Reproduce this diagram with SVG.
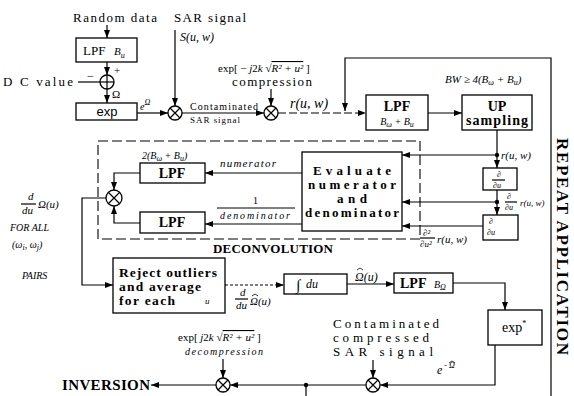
<svg xmlns="http://www.w3.org/2000/svg" width="574" height="396" viewBox="0 0 574 396">
<defs>
<marker id="ah" markerWidth="8" markerHeight="6" refX="8" refY="3" orient="auto" markerUnits="userSpaceOnUse"><path d="M0,0 L8,3 L0,6 z" fill="#000"/></marker>
</defs>
<style>
.box{fill:#fff;stroke:#000;stroke-width:1.3}
.ln{fill:none;stroke:#000;stroke-width:1.2}
.hat{fill:none;stroke:#000;stroke-width:0.8}
.ar{fill:none;stroke:#000;stroke-width:1.2;marker-end:url(#ah)}
.t{font-family:"Liberation Serif",serif;font-size:13px;fill:#000}
.b{font-weight:bold}
.i{font-style:italic}
.s{font-family:"Liberation Sans",sans-serif}
.sm{font-size:10px}
.xs{font-size:8px}
.f14{font-size:14px}
.f15{font-size:15px}
.dash{stroke-dasharray:8,3}
.dot{stroke-dasharray:3,2}
.circ{fill:#fff;stroke:#000;stroke-width:1.3}
</style>
<rect width="574" height="396" fill="#fff"/>

<g id="connectors">
  <line class="ar" x1="107" y1="25" x2="107" y2="38"/>
  <line class="ar" x1="107" y1="62" x2="107" y2="75"/>
  <line class="ln" x1="78" y1="82" x2="100" y2="82"/>
  <line class="ar" x1="107" y1="89" x2="107" y2="103"/>
  <line class="ar" x1="137" y1="113" x2="168" y2="113"/>
  <line class="ar" x1="175" y1="30" x2="175" y2="106"/>
  <line class="ar" x1="182" y1="113" x2="264" y2="113"/>
  <line class="ar" x1="271" y1="89" x2="271" y2="106"/>
  <line class="ar dash" x1="278" y1="113" x2="366" y2="113"/>
  <path class="ar" d="M551,396 V58 H345 V111"/>
  <line class="ar" x1="428" y1="113" x2="462" y2="113"/>
  <line class="ar" x1="497" y1="130" x2="497" y2="168"/>
  <circle cx="497" cy="155" r="2.2" fill="#000"/>
  <line class="ar" x1="497" y1="190" x2="497" y2="215"/>
  <circle cx="497" cy="202" r="2.2" fill="#000"/>
  <line class="ar" x1="497" y1="155" x2="402" y2="155"/>
  <line class="ar" x1="497" y1="202" x2="402" y2="202"/>
  <line class="ar" x1="483" y1="226" x2="402" y2="226"/>
  <line class="ar" x1="302" y1="173" x2="205" y2="173"/>
  <line class="ar" x1="302" y1="224" x2="205" y2="224"/>
  <path class="ar" d="M140,173 H114 V190"/>
  <path class="ar" d="M140,223 H114 V206"/>
  <path class="ar" d="M106,198 H82 V285 H113"/>
  <line class="ar dot" x1="225" y1="285" x2="284" y2="285"/>
  <line class="ar" x1="347" y1="284" x2="394" y2="284"/>
  <path class="ar" d="M453,283 H505 V310"/>
  <path class="ar" d="M495,345 V385 H380"/>
  <line class="ar" x1="373" y1="360" x2="373" y2="378"/>
  <line class="ar" x1="366" y1="385" x2="230" y2="385"/>
  <circle cx="306" cy="385" r="2.2" fill="#000"/>
  <line class="ln" x1="306" y1="385" x2="306" y2="396"/>
  <line class="ar" x1="223" y1="359" x2="223" y2="378"/>
  <line class="ar" x1="216" y1="385" x2="151" y2="385"/>

  <text class="t i sm" x="140" y="110">e<tspan class="xs" dy="-5">Ω</tspan></text>
  <text class="t sm" x="190" y="110" textLength="68" lengthAdjust="spacing">Contaminated</text>
  <text class="t" style="font-size:9px" x="190" y="123" textLength="50" lengthAdjust="spacing">SAR signal</text>
  <text class="t i f14" x="290" y="108">r(u, w)</text>
  <text class="t i" style="font-size:11px" x="445" y="83">BW ≥ 4(B<tspan class="xs" dy="2">ω</tspan><tspan dy="-2"> + B</tspan><tspan class="xs" dy="2">u</tspan><tspan dy="-2">)</tspan></text>
  <text class="t i" style="font-size:11px" x="501" y="159">r(u, w)</text>
  <text class="t i xs" x="507" y="199">∂</text>
  <line class="ln" x1="505" y1="202" x2="517" y2="202" stroke-width="0.8"/>
  <text class="t i xs" x="505" y="210">∂u</text>
  <text class="t i" style="font-size:9px" x="520" y="206">r(u, w)</text>
  <text class="t i" style="font-size:9px" x="423" y="236">∂²</text>
  <line class="ln" x1="420" y1="238" x2="435" y2="238" stroke-width="0.8"/>
  <text class="t i" style="font-size:9px" x="420" y="247">∂u²</text>
  <text class="t i" style="font-size:11px" x="437" y="243">r(u, w)</text>
  <text class="t i" style="font-size:11px" x="220" y="167" textLength="56" lengthAdjust="spacing">numerator</text>
  <text class="t sm" x="253" y="204">1</text>
  <line class="ln" x1="217" y1="208" x2="295" y2="208" stroke-width="1"/>
  <text class="t i sm" x="220" y="219" textLength="70" lengthAdjust="spacing">denominator</text>
  <text class="t i sm" x="142" y="159">2(B<tspan class="xs" dy="2">ω</tspan><tspan dy="-2"> + B</tspan><tspan class="xs" dy="2">u</tspan><tspan dy="-2">)</tspan></text>
  <text class="t i" style="font-size:11px" x="28" y="200">d</text>
  <line class="ln" x1="21" y1="204" x2="36" y2="204" stroke-width="0.9"/>
  <text class="t i" style="font-size:11px" x="22" y="214">du</text>
  <text class="t i" style="font-size:11px" x="38" y="208">Ω(u)</text>
  <text class="t i sm" x="10" y="231">FOR   ALL</text>
  <text class="t i sm" x="12" y="248">(ω<tspan class="xs" dy="2">i</tspan><tspan dy="-2">, ω</tspan><tspan class="xs" dy="2">j</tspan><tspan dy="-2">)</tspan></text>
  <text class="t i sm" x="22" y="279">PAIRS</text>
  <text class="t i" style="font-size:11px" x="240" y="296">d</text>
  <line class="ln" x1="235" y1="299" x2="248" y2="299" stroke-width="0.9"/>
  <text class="t i" style="font-size:11px" x="236" y="309">du</text>
  <text class="t i" style="font-size:11px" x="250" y="305">Ω(u)</text>
  <path class="hat" d="M252,296 L255,294 L258,296"/>
  <text class="t i" style="font-size:12px" x="355" y="281">Ω(u)</text>
  <path class="hat" d="M357,270 L360,268 L363,270"/>
  <text class="t i" style="font-size:12px" x="437" y="374">e<tspan class="xs" dy="-6"> - Ω</tspan></text>
  <path class="hat" d="M449,363 L452,361 L455,363"/>
</g>

<g id="random-data"><text class="t" x="73" y="22" textLength="84" lengthAdjust="spacing">Random data</text></g>
<g id="sar-signal">
  <text class="t" x="174" y="22" textLength="72" lengthAdjust="spacing">SAR signal</text>
  <text class="t i" style="font-size:12px" x="180" y="41">S(u, w)</text>
</g>
<g id="lpf-bu">
  <rect class="box" x="76" y="38" width="61" height="24"/>
  <text class="t" x="83" y="55">LPF</text>
  <text class="t i" style="font-size:11px" x="114" y="55">B<tspan class="xs" dy="3">u</tspan></text>
</g>
<g id="dc-value"><text class="t" x="3" y="86" textLength="70" lengthAdjust="spacing">D C  value</text></g>
<g id="sum">
  <circle class="circ" cx="107" cy="82" r="7"/>
  <line class="ln" x1="100" y1="82" x2="114" y2="82"/>
  <line class="ln" x1="107" y1="75" x2="107" y2="89"/>
  <text class="t" x="87" y="80" style="font-size:12px">−</text>
  <text class="t" x="114" y="74" style="font-size:11px">+</text>
  <text class="t" x="112" y="98" style="font-size:11px">Ω</text>
</g>
<g id="exp">
  <rect class="box" x="76" y="103" width="61" height="17"/>
  <text class="t s" x="107" y="116" text-anchor="middle">exp</text>
</g>
<g id="mult1">
  <circle class="circ" cx="175" cy="113" r="7"/>
  <path class="ln" d="M170,108 L180,118 M180,108 L170,118"/>
</g>
<g id="compression">
  <text class="t" style="font-size:11px" x="218" y="72">exp[ − <tspan class="i">j</tspan>2<tspan class="i">k</tspan> √<tspan class="i" text-decoration="overline">R² + u²</tspan> ]</text>
  <text class="t" x="232" y="86" textLength="80" lengthAdjust="spacing">compression</text>
</g>
<g id="mult2">
  <circle class="circ" cx="271" cy="113" r="7"/>
  <path class="ln" d="M266,108 L276,118 M276,108 L266,118"/>
</g>
<g id="lpf-mid">
  <rect class="box" x="366" y="95" width="62" height="35"/>
  <text class="t b f14" x="397" y="111" text-anchor="middle">LPF</text>
  <text class="t i sm" x="397" y="125" text-anchor="middle">B<tspan class="xs" dy="2">ω</tspan><tspan dy="-2"> + B</tspan><tspan class="xs" dy="2">u</tspan></text>
</g>
<g id="up-sampling">
  <rect class="box" x="462" y="95" width="70" height="35"/>
  <text class="t b f14" x="497" y="111" text-anchor="middle">UP</text>
  <text class="t b f14" x="497" y="125" text-anchor="middle" textLength="62" lengthAdjust="spacing">sampling</text>
</g>
<g id="deriv1">
  <rect class="box" x="483" y="168" width="34" height="22"/>
  <text class="t i xs" x="497" y="177">∂</text>
  <line class="ln" x1="492" y1="180" x2="505" y2="180" stroke-width="0.8"/>
  <text class="t i xs" x="493" y="188">∂u</text>
</g>
<g id="deriv2">
  <rect class="box" x="483" y="215" width="35" height="25"/>
  <text class="t i xs" x="489" y="224">∂</text>
  <text class="t i xs" x="487" y="235">∂u</text>
</g>
<g id="evaluate">
  <rect class="box" x="302" y="152" width="100" height="79"/>
  <text class="t b" x="352" y="175" text-anchor="middle" textLength="78" lengthAdjust="spacing">Evaluate</text>
  <text class="t b" x="352" y="189" text-anchor="middle" textLength="88" lengthAdjust="spacing">numerator</text>
  <text class="t b" x="352" y="203" text-anchor="middle" textLength="30" lengthAdjust="spacing">and</text>
  <text class="t b" x="352" y="217" text-anchor="middle" textLength="94" lengthAdjust="spacing">denominator</text>
</g>
<g id="lpf1">
  <rect class="box" x="140" y="163" width="65" height="20"/>
  <text class="t b f14" x="172" y="178" text-anchor="middle">LPF</text>
</g>
<g id="lpf2">
  <rect class="box" x="140" y="212" width="65" height="21"/>
  <text class="t b f14" x="172" y="227" text-anchor="middle">LPF</text>
</g>
<g id="mult3">
  <circle class="circ" cx="114" cy="198" r="8"/>
  <path class="ln" d="M108,192 L120,204 M120,192 L108,204"/>
</g>
<g id="deconvolution">
  <rect x="98" y="141" width="322" height="98" fill="none" stroke="#000" stroke-width="1.1" stroke-dasharray="10,4"/>
  <text class="t b" x="213" y="253" textLength="120" lengthAdjust="spacing">DECONVOLUTION</text>
</g>
<g id="reject">
  <rect class="box" x="113" y="258" width="112" height="55"/>
  <text class="t b" style="font-size:13.5px" x="119" y="277" textLength="98" lengthAdjust="spacing">Reject outliers</text>
  <text class="t b" style="font-size:13.5px" x="119" y="291" textLength="82" lengthAdjust="spacing">and average</text>
  <text class="t b" style="font-size:13.5px" x="119" y="305" textLength="56" lengthAdjust="spacing">for each</text>
  <text class="t i" style="font-size:9px" x="205" y="304">u</text>
</g>
<g id="integrate">
  <rect class="box" x="284" y="274" width="63" height="20"/>
  <text class="t" x="296" y="290" style="font-size:15px">∫</text>
  <text class="t i" style="font-size:12px" x="306" y="288">du</text>
</g>
<g id="lpf-bo">
  <rect class="box" x="394" y="273" width="59" height="20"/>
  <text class="t b f14" x="400" y="288">LPF</text>
  <text class="t i sm" x="434" y="288">B<tspan class="xs" dy="2">Ω</tspan></text>
</g>
<g id="exp-star">
  <rect class="box" x="488" y="310" width="54" height="35"/>
  <text class="t f14" x="502" y="332">exp<tspan class="xs" dy="-6">*</tspan></text>
</g>
<g id="contaminated-compressed">
  <text class="t" x="333" y="328" textLength="106" lengthAdjust="spacing">Contaminated</text>
  <text class="t" x="333" y="342" textLength="96" lengthAdjust="spacing">compressed</text>
  <text class="t" x="333" y="356" textLength="100" lengthAdjust="spacing">SAR signal</text>
</g>
<g id="mult4">
  <circle class="circ" cx="373" cy="385" r="7"/>
  <path class="ln" d="M368,380 L378,390 M378,380 L368,390"/>
</g>
<g id="decompression">
  <text class="t" style="font-size:11px" x="178" y="341">exp[ <tspan class="i">j</tspan>2<tspan class="i">k</tspan> √<tspan class="i" text-decoration="overline">R² + u²</tspan> ]</text>
  <text class="t i sm" x="185" y="355" textLength="78" lengthAdjust="spacing">decompression</text>
</g>
<g id="mult5">
  <circle class="circ" cx="223" cy="385" r="7"/>
  <path class="ln" d="M218,380 L228,390 M228,380 L218,390"/>
</g>
<g id="inversion"><text class="t b f15" x="62" y="390" textLength="88" lengthAdjust="spacing">INVERSION</text></g>
<g id="repeat-application"><text class="t b" style="font-size:17px" transform="translate(557,138) rotate(90)" x="0" y="0" textLength="217" lengthAdjust="spacing">REPEAT APPLICATION</text></g>
</svg>
